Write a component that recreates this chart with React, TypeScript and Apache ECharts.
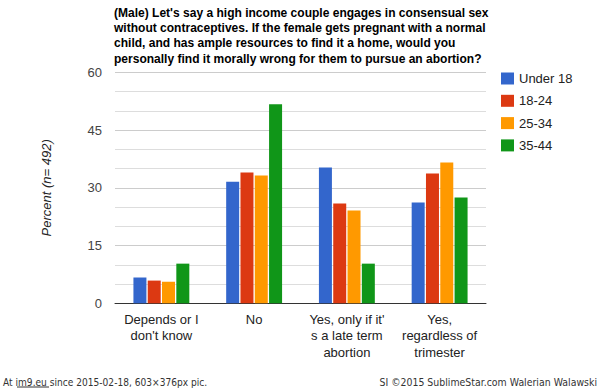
import React, { useEffect, useRef } from "react";
import * as echarts from "echarts";

const categories = [
  "Depends or I\ndon't know",
  "No",
  "Yes, only if it'\ns a late term\nabortion",
  "Yes,\nregardless of\ntrimester",
];
const seriesNames = ["Under 18", "18-24", "25-34", "35-44"];
const under18 = [6.7, 31.6, 35.3, 26.2];
const age18to24 = [5.9, 34.0, 25.9, 33.7];
const age25to34 = [5.6, 33.2, 24.1, 36.6];
const age35to44 = [10.3, 51.7, 10.3, 27.5];
const colors = ["#3366cc", "#dc3912", "#ff9900", "#109618"];
const yTicks = [0, 15, 30, 45, 60];

const titleText =
  "(Male) Let's say a high income couple engages in consensual sex\nwithout contraceptives. If the female gets pregnant with a normal\nchild, and has ample resources to find it a home, would you\npersonally find it morally wrong for them to pursue an abortion?";
const footerLeft = "At im9.eu since 2015-02-18, 603×376px pic.";
const footerRight = "SI ©2015 SublimeStar.com Walerian Walawski";

export default function App() {
  const ref = useRef<HTMLDivElement>(null);
  useEffect(() => {
    if (!ref.current) return;
    const chart = echarts.init(ref.current, null, { renderer: "svg" });
    const values = [under18, age18to24, age25to34, age35to44];
    const font = "Arial, 'Liberation Sans', sans-serif";
    const footFont = "11px 'DejaVu Sans', sans-serif";
    chart.setOption({
      animation: false,
      backgroundColor: "#ffffff",
      textStyle: { fontFamily: font },
      grid: { left: 115, top: 72.3, width: 371, height: 231, containLabel: false },
      legend: {
        orient: "vertical",
        left: 501,
        top: 72,
        padding: 0,
        itemWidth: 13,
        itemHeight: 12,
        itemGap: 9.3,
        icon: "rect",
        data: seriesNames,
        textStyle: { fontSize: 13, lineHeight: 12, color: "#222", fontFamily: font },
      },
      xAxis: {
        type: "category",
        data: categories,
        axisTick: { show: false },
        axisLine: { lineStyle: { color: "#333", width: 1 } },
        axisLabel: {
          interval: 0,
          margin: 7.5,
          fontSize: 13,
          lineHeight: 16.5,
          color: "#222",
          fontFamily: font,
        },
      },
      yAxis: {
        type: "value",
        min: yTicks[0],
        max: yTicks[yTicks.length - 1],
        interval: 15,
        name: "Percent (n= 492)",
        nameLocation: "middle",
        nameGap: 62,
        nameTextStyle: { fontSize: 13, fontStyle: "italic", color: "#222", fontFamily: font },
        axisLine: { show: false },
        axisTick: { show: false },
        axisLabel: { fontSize: 13, color: "#444", margin: 13, fontFamily: font },
        splitLine: { lineStyle: { color: "#cccccc", width: 1 } },
        minorTick: { show: false, splitNumber: 3 },
        minorSplitLine: { show: true, lineStyle: { color: "#dddddd", width: 1 } },
      },
      series: seriesNames.map((name, i) => ({
        name,
        type: "bar",
        data: values[i],
        barWidth: 13,
        barGap: "10%",
        itemStyle: { color: colors[i] },
      })),
      color: colors,
      graphic: [
        {
          type: "text",
          x: 114,
          y: 5,
          scaleX: 0.926,
          style: {
            text: titleText,
            font: "bold 13px Arial, 'Liberation Sans', sans-serif",
            lineHeight: 15.3,
            fill: "#000",
            textAlign: "left",
            textVerticalAlign: "top",
          },
        },
        {
          type: "text",
          x: 3,
          y: 382,
          scaleX: 0.826,
          style: {
            text: footerLeft,
            font: footFont,
            fill: "#333",
            textAlign: "left",
            textVerticalAlign: "middle",
          },
        },
        {
          type: "line",
          shape: { x1: 17, y1: 387, x2: 49, y2: 387 },
          style: { stroke: "#333", lineWidth: 1 },
        },
        {
          type: "text",
          x: 597,
          y: 382,
          scaleX: 0.853,
          style: {
            text: footerRight,
            font: footFont,
            fill: "#333",
            textAlign: "right",
            textVerticalAlign: "middle",
          },
        },
      ],
    });
    return () => chart.dispose();
  }, []);
  return (
    <div
      ref={ref}
      style={{ position: "absolute", left: 0, top: 0, width: 603, height: 388 }}
    />
  );
}
